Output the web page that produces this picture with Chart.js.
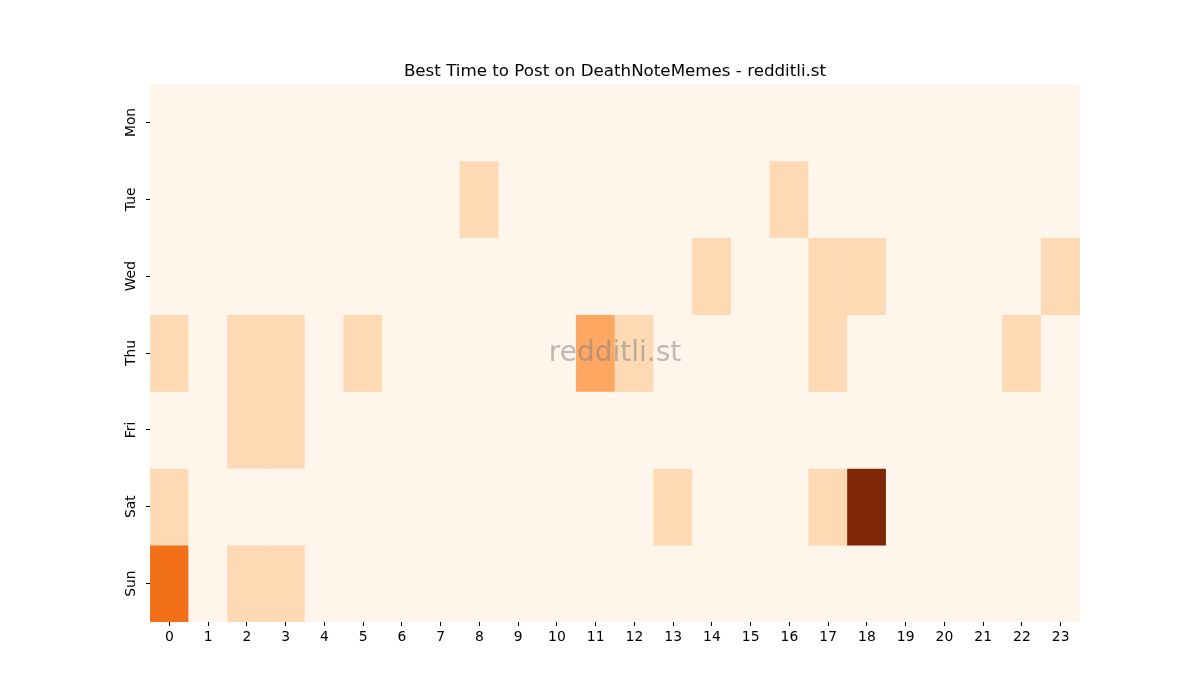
<!DOCTYPE html>
<html>
<head>
<meta charset="utf-8">
<script src="https://cdn.jsdelivr.net/npm/chart.js@4"></script>
<style>
    html, body { margin: 0; padding: 0; background: #fff; }
    #wrap { width: 1200px; height: 700px; }
</style>
</head>
<body>
<div id="wrap"><canvas id="heatmap" width="1200" height="700"></canvas></div>
<script>
// Heatmap - posts per weekday / hour
const days = ['Mon', 'Tue', 'Wed', 'Thu', 'Fri', 'Sat', 'Sun'];
const hours = ['0', '1', '2', '3', '4', '5', '6', '7', '8', '9', '10', '11',
               '12', '13', '14', '15', '16', '17', '18', '19', '20', '21', '22', '23'];

const mon = [0, 0, 0, 0, 0, 0, 0, 0, 0, 0, 0, 0, 0, 0, 0, 0, 0, 0, 0, 0, 0, 0, 0, 0];
const tue = [0, 0, 0, 0, 0, 0, 0, 0, 1, 0, 0, 0, 0, 0, 0, 0, 1, 0, 0, 0, 0, 0, 0, 0];
const wed = [0, 0, 0, 0, 0, 0, 0, 0, 0, 0, 0, 0, 0, 0, 1, 0, 0, 1, 1, 0, 0, 0, 0, 1];
const thu = [1, 0, 1, 1, 0, 1, 0, 0, 0, 0, 0, 2, 1, 0, 0, 0, 0, 1, 0, 0, 0, 0, 1, 0];
const fri = [0, 0, 1, 1, 0, 0, 0, 0, 0, 0, 0, 0, 0, 0, 0, 0, 0, 0, 0, 0, 0, 0, 0, 0];
const sat = [1, 0, 0, 0, 0, 0, 0, 0, 0, 0, 0, 0, 0, 1, 0, 0, 0, 1, 5, 0, 0, 0, 0, 0];
const sun = [3, 0, 1, 1, 0, 0, 0, 0, 0, 0, 0, 0, 0, 0, 0, 0, 0, 0, 0, 0, 0, 0, 0, 0];

const grid = [mon, tue, wed, thu, fri, sat, sun];
const maxVal = Math.max(...grid.flat());

// matplotlib "Oranges"
const oranges = ['#fff5eb', '#fee6ce', '#fdd0a2', '#fdae6b', '#fd8d3c',
                 '#f16913', '#d94801', '#a63603', '#7f2704'];

function hexRgb(h) {
    return [parseInt(h.slice(1, 3), 16), parseInt(h.slice(3, 5), 16), parseInt(h.slice(5, 7), 16)];
}

function orangeColor(v) {
    const t = Math.min(1, Math.max(0, v / maxVal)) * (oranges.length - 1);
    const i = Math.min(Math.floor(t), oranges.length - 2);
    const f = t - i;
    const a = hexRgb(oranges[i]);
    const b = hexRgb(oranges[i + 1]);
    const c = a.map((x, k) => Math.round(x + (b[k] - x) * f));
    return 'rgb(' + c.join(',') + ')';
}

const datasets = days.map((day, d) => ({
    label: day,
    data: grid[d].map(() => [d, d + 1]),
    backgroundColor: grid[d].map(v => orangeColor(v)),
    borderWidth: 0,
    barPercentage: 1,
    categoryPercentage: 1,
    grouped: false
}));

// fill plot area with the zero colour so seams between cells don't show
const areaFill = {
    id: 'areaFill',
    beforeDatasetsDraw(chart) {
        const a = chart.chartArea;
        const ctx = chart.ctx;
        ctx.save();
        ctx.fillStyle = oranges[0];
        ctx.fillRect(a.left, a.top, a.right - a.left, a.bottom - a.top);
        ctx.restore();
    }
};

// watermark
const watermark = {
    id: 'watermark',
    afterDatasetsDraw(chart) {
        const a = chart.chartArea;
        const ctx = chart.ctx;
        ctx.save();
        ctx.font = '28px "DejaVu Sans"';
        ctx.fillStyle = 'rgba(128,128,128,0.5)';
        ctx.textAlign = 'center';
        ctx.textBaseline = 'middle';
        ctx.fillText('redditli.st', (a.left + a.right) / 2, (a.top + a.bottom) / 2 + 1);
        ctx.restore();
    }
};

const tickFont = { family: 'DejaVu Sans', size: 13.9 };

new Chart(document.getElementById('heatmap'), {
    type: 'bar',
    data: { labels: hours, datasets: datasets },
    options: {
        responsive: false,
        animation: false,
        layout: { padding: { top: 51, left: 30, right: 0, bottom: 0 } },
        plugins: {
            legend: { display: false },
            tooltip: { enabled: false },
            title: {
                display: true,
                text: 'Best Time to Post on DeathNoteMemes - redditli.st',
                color: '#000',
                font: { family: 'DejaVu Sans', size: 16.7, weight: 'normal' },
                padding: { top: 11, bottom: 2 }
            }
        },
        scales: {
            x: {
                type: 'category',
                offset: true,
                border: { display: false },
                grid: {
                    offset: false,
                    drawOnChartArea: false,
                    drawTicks: true,
                    tickLength: 4,
                    color: '#000'
                },
                ticks: { color: '#000', font: tickFont, padding: 3, maxRotation: 0, autoSkip: false },
                afterFit(scale) { scale.height = 78; }
            },
            y: {
                type: 'linear',
                position: 'left',
                min: 0,
                max: 7,
                reverse: true,
                border: { display: false },
                grid: {
                    drawOnChartArea: false,
                    drawTicks: true,
                    tickLength: 4,
                    color: '#000'
                },
                afterBuildTicks(scale) {
                    scale.ticks = days.map((d, i) => ({ value: i + 0.5 }));
                },
                ticks: {
                    color: '#000',
                    font: tickFont,
                    padding: -1,
                    crossAlign: 'center',
                    minRotation: 90,
                    maxRotation: 90,
                    autoSkip: false,
                    callback: function(value, index) {
                        return days[index];
                    }
                },
                afterFit(scale) { scale.width = 120; }
            },
            // empty right-hand spacer so the title centres over the plot like the original
            spacer: {
                type: 'linear',
                position: 'right',
                display: true,
                border: { display: false },
                grid: { display: false },
                ticks: { display: false },
                afterFit(scale) { scale.width = 120; }
            }
        }
    },
    plugins: [areaFill, watermark]
});
</script>
</body>
</html>
